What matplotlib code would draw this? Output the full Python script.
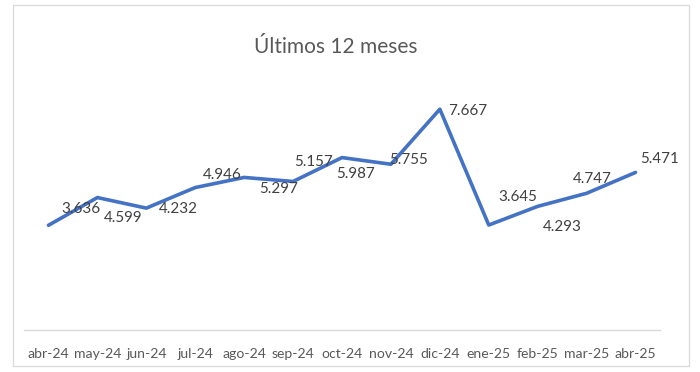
import numpy as np
import matplotlib.pyplot as plt
from matplotlib.patches import Rectangle

# datos del grafico
meses = ["abr-24", "may-24", "jun-24", "jul-24", "ago-24", "sep-24", "oct-24",
         "nov-24", "dic-24", "ene-25", "feb-25", "mar-25", "abr-25"]
valores = [3.636, 4.599, 4.232, 4.946, 5.297, 5.157, 5.987,
           5.755, 7.667, 3.645, 4.293, 4.747, 5.471]
etiquetas = ["3.636", "4.599", "4.232", "4.946", "5.297", "5.157", "5.987",
             "5.755", "7.667", "3.645", "4.293", "4.747", "5.471"]

# desplazamiento de cada etiqueta respecto a su punto (pixeles, y hacia arriba)
desp = [(32, 16), (26, -20), (32, -1), (27, 13), (34, -12), (20, 19), (14, -16),
        (18, 4), (28, -2), (29, 28), (25, -21), (6, 14), (24, 13)]

W, H = 700, 372
fig = plt.figure(figsize=(W / 100, H / 100), dpi=100)
fuente = "Lato"
gris = "#595959"

# marco del grafico
fig.patches.append(Rectangle((12.5 / W, 1 - 366 / H), 676 / W, 361 / H,
                             transform=fig.transFigure, fill=False,
                             edgecolor="#D9D9D9", linewidth=0.9))

fig.text(336 / W, 1 - 53 / H, "Últimos 12 meses", ha="center", va="baseline",
         fontsize=15, color=gris, family=fuente)

ax = fig.add_axes([24 / W, 1 - 330 / H, 636 / W, 259.2 / H])
x = np.arange(len(meses))
ax.plot(x, valores, color="#4472C4", linewidth=2.6, solid_joinstyle="round",
        solid_capstyle="round")

for i in range(len(valores)):
    ax.annotate(etiquetas[i], (x[i], valores[i]), xytext=(desp[i][0] * 0.72, desp[i][1] * 0.72),
                textcoords="offset points", ha="center", va="center",
                fontsize=10.9, color="#404040", family=fuente)

ax.set_xlim(-0.5, len(meses) - 0.5)
ax.set_ylim(0, 9)
ax.set_xticks(x)
ax.set_xticklabels(meses, fontsize=10.1, color=gris, family=fuente)
ax.tick_params(axis="x", length=0, pad=13)
ax.set_yticks([])
for lado in ["top", "left", "right"]:
    ax.spines[lado].set_visible(False)
ax.spines["bottom"].set_color("#D9D9D9")
ax.spines["bottom"].set_linewidth(1.0)
ax.patch.set_alpha(0)

fig.savefig("out.png", dpi=100)
